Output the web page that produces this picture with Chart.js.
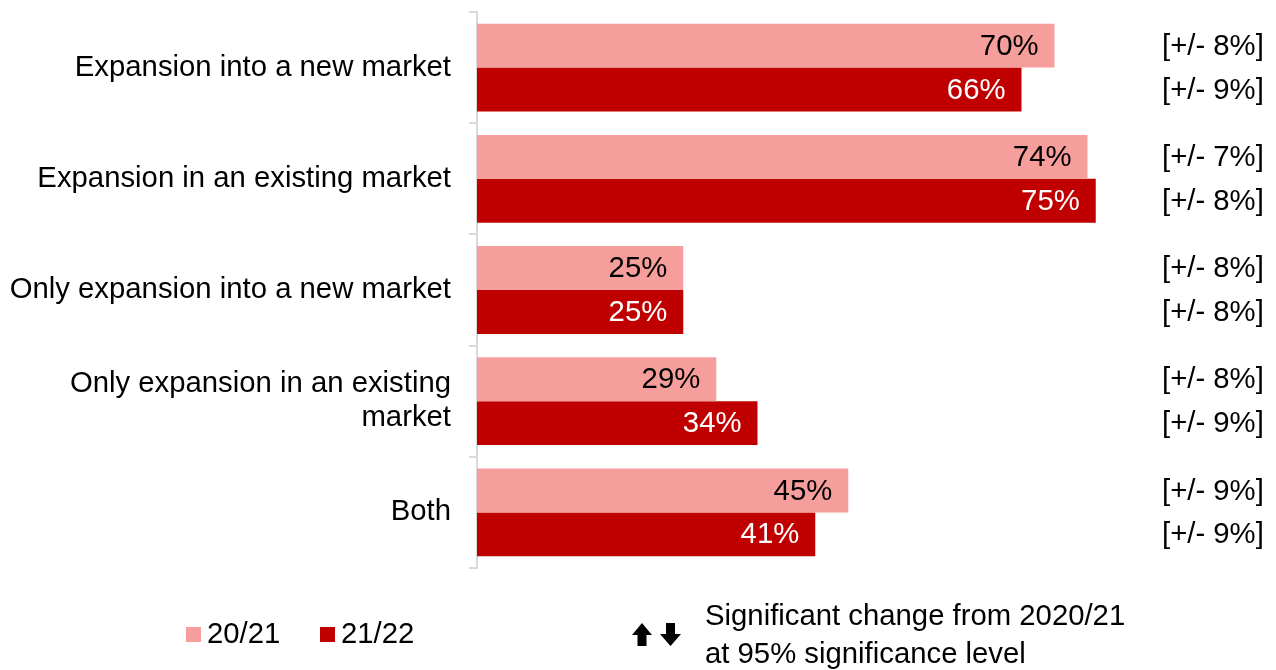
<!DOCTYPE html>
<html>
<head>
<meta charset="utf-8">
<script src="https://cdn.jsdelivr.net/npm/chart.js@4/dist/chart.umd.min.js"></script>
<style>
  html, body { margin: 0; padding: 0; background: #fff; }
  #wrap { width: 1276px; height: 670px; position: relative; }
</style>
</head>
<body>
<div id="wrap"><canvas id="c" width="1276" height="670"></canvas></div>
<script>
// Categories (multi-line where the label wraps)
const categories = [
  'Expansion into a new market',
  'Expansion in an existing market',
  'Only expansion into a new market',
  ['Only expansion in an existing', 'market'],
  'Both'
];
const seriesNames = ['20/21', '21/22'];
// Percentages per category
const values2021 = [70, 74, 25, 29, 45];
const values2122 = [66, 75, 25, 34, 41];
// Margins of error (percentage points) shown at the right
const margins2021 = [8, 7, 8, 8, 9];
const margins2122 = [9, 8, 8, 9, 9];
const noteLines = ['Significant change from 2020/21', 'at 95% significance level'];

const FONT = "'Liberation Sans', Arial, sans-serif";
const FSIZE = 29.3;
const PINK = '#F59E9C';
const RED = '#C00000';

// Value labels inside the bar ends, margin labels at the right edge
const barLabels = {
  id: 'barLabels',
  afterDatasetsDraw(chart) {
    const ctx = chart.ctx;
    ctx.save();
    ctx.font = FSIZE + 'px ' + FONT;
    ctx.textBaseline = 'middle';
    const margins = [margins2021, margins2122];
    chart.data.datasets.forEach((ds, di) => {
      const meta = chart.getDatasetMeta(di);
      meta.data.forEach((bar, i) => {
        ctx.fillStyle = di === 0 ? '#000' : '#fff';
        ctx.textAlign = 'right';
        ctx.fillText(ds.data[i] + '%', bar.x - 16, bar.y + 1);
        ctx.fillStyle = '#000';
        ctx.textAlign = 'left';
        ctx.fillText('[+/- ' + margins[di][i] + '%]', 1162, bar.y + 1);
      });
    });
    ctx.restore();
  }
};

// Legend row and significance note along the bottom
const footer = {
  id: 'footer',
  afterDraw(chart) {
    const ctx = chart.ctx;
    ctx.save();
    ctx.font = FSIZE + 'px ' + FONT;
    ctx.textBaseline = 'middle';
    ctx.textAlign = 'left';
    const items = [
      { x: 186, color: chart.data.datasets[0].backgroundColor, text: chart.data.datasets[0].label },
      { x: 320, color: chart.data.datasets[1].backgroundColor, text: chart.data.datasets[1].label }
    ];
    items.forEach(it => {
      ctx.fillStyle = it.color;
      ctx.fillRect(it.x, 627, 15, 15);
      ctx.fillStyle = '#000';
      ctx.fillText(it.text, it.x + 21, 635);
    });

    // up arrow
    ctx.fillStyle = '#000';
    ctx.beginPath();
    ctx.moveTo(642, 623);
    ctx.lineTo(652, 635);
    ctx.lineTo(646.5, 635);
    ctx.lineTo(646.5, 646);
    ctx.lineTo(637.5, 646);
    ctx.lineTo(637.5, 635);
    ctx.lineTo(632, 635);
    ctx.closePath();
    ctx.fill();
    // down arrow
    ctx.beginPath();
    ctx.moveTo(666, 623);
    ctx.lineTo(675, 623);
    ctx.lineTo(675, 634);
    ctx.lineTo(681, 634);
    ctx.lineTo(670.5, 646);
    ctx.lineTo(660, 634);
    ctx.lineTo(666, 634);
    ctx.closePath();
    ctx.fill();

    ctx.fillText(noteLines[0], 705, 617);
    ctx.fillText(noteLines[1], 705, 655);
    ctx.restore();
  }
};

new Chart(document.getElementById('c'), {
  type: 'bar',
  data: {
    labels: categories,
    datasets: [
      { label: seriesNames[0], data: values2021, backgroundColor: PINK },
      { label: seriesNames[1], data: values2122, backgroundColor: RED }
    ]
  },
  options: {
    indexAxis: 'y',
    responsive: false,
    animation: false,
    devicePixelRatio: 1,
    layout: { padding: { left: 0, right: 139, top: 12, bottom: 102 } },
    datasets: { bar: { categoryPercentage: 0.79, barPercentage: 1.0 } },
    scales: {
      x: { display: false, min: 0, max: 80 },
      y: {
        afterFit(scale) {
          scale.width = 477;
          scale.paddingTop = 0;
          scale.paddingBottom = 0;
        },
        grid: {
          drawOnChartArea: false,
          drawTicks: true,
          tickLength: 8,
          offset: true,
          color: '#D9D9D9',
          lineWidth: 2
        },
        border: { display: true, color: '#D9D9D9', width: 2 },
        ticks: {
          color: '#000',
          padding: 18,
          font: { family: FONT, size: FSIZE, lineHeight: 1.15 }
        }
      }
    },
    plugins: {
      legend: { display: false },
      tooltip: { enabled: false }
    }
  },
  plugins: [barLabels, footer]
});
</script>
</body>
</html>
